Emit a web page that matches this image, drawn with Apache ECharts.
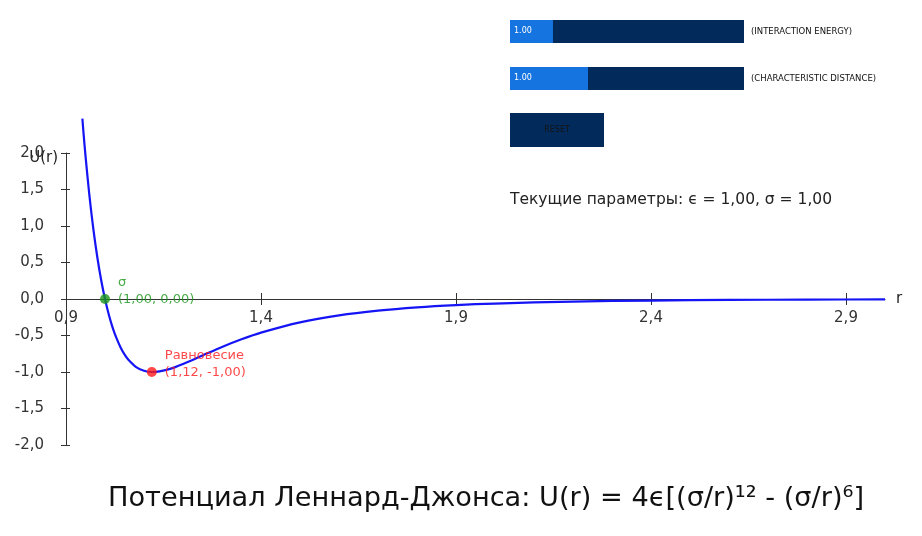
<!DOCTYPE html>
<html>
<head>
<meta charset="utf-8">
<script src="https://cdn.jsdelivr.net/npm/echarts@6/dist/echarts.min.js"></script>
<style>
html,body{margin:0;padding:0;background:#fff;}
#chart{width:922px;height:536px;}
</style>
</head>
<body>
<div id="chart"></div>
<script>
// ---- data ----
var rValues = [0.942, 0.945, 0.95, 0.96, 0.97, 0.98, 0.99, 1.00, 1.01, 1.02, 1.03, 1.04, 1.05, 1.06, 1.08, 1.10, 1.12, 1.14, 1.16, 1.18, 1.20, 1.25, 1.30, 1.35, 1.40, 1.50, 1.60, 1.70, 1.80, 1.90, 2.00, 2.20, 2.40, 2.60, 2.80, 3.00];
var uValues = [2.47, 2.27, 1.961, 1.418, 0.963, 0.582, 0.264, 0.000, -0.218, -0.398, -0.544, -0.663, -0.758, -0.832, -0.932, -0.983, -1.000, -0.992, -0.968, -0.933, -0.891, -0.774, -0.657, -0.552, -0.461, -0.320, -0.224, -0.159, -0.114, -0.083, -0.062, -0.035, -0.021, -0.013, -0.008, -0.006];
var xTickValues = [0.9, 1.4, 1.9, 2.4, 2.9];
var yTickValues = [-2.0, -1.5, -1.0, -0.5, 0.0, 0.5, 1.0, 1.5, 2.0];
var sigmaPoint = [1.00, 0.00];
var equilibriumPoint = [1.12, -1.00];
var sliderNames = ['(INTERACTION ENERGY)', '(CHARACTERISTIC DISTANCE)'];
var sliderValues = [1.00, 1.00];
var sliderMins = [0.1, 0.5];
var sliderMaxs = [5.0, 2.0];
var epsilonValue = 1.00;
var sigmaValue = 1.00;

function fmt(v, d) {
  return v.toFixed(d).replace('.', ',');
}

var curve = rValues.map(function (r, i) { return [r, uValues[i]]; });

var chart = echarts.init(document.getElementById('chart'), null, {renderer: 'canvas'});

var FONT = 'DejaVu Sans';
var AX = '#333';

// slider widgets
var graphics = [];
var barX = 510, barW = 234, barH = 23;
var barYs = [20, 67];
for (var i = 0; i < sliderValues.length; i++) {
  var frac = (sliderValues[i] - sliderMins[i]) / (sliderMaxs[i] - sliderMins[i]);
  graphics.push({type: 'rect', left: barX, top: barYs[i], shape: {width: barW, height: barH}, style: {fill: '#022b5c'}});
  graphics.push({type: 'rect', left: barX, top: barYs[i], shape: {width: barW * frac, height: barH}, style: {fill: '#1574df'}});
  graphics.push({type: 'text', left: barX + 4, top: barYs[i] + 7, style: {text: sliderValues[i].toFixed(2), fill: '#fff', font: '8px ' + FONT}});
  graphics.push({type: 'text', left: 751, top: barYs[i] + 7, style: {text: sliderNames[i], fill: '#111', font: '8.5px ' + FONT}});
}
graphics.push({type: 'rect', left: 510, top: 113, shape: {width: 94, height: 34}, style: {fill: '#022b5c'}});
graphics.push({type: 'text', x: 557, y: 130, style: {text: 'RESET', fill: '#141414', font: '8px ' + FONT, align: 'center', verticalAlign: 'middle'}});
graphics.push({type: 'text', left: 510, top: 192, style: {text: 'Текущие параметры: ϵ = ' + fmt(epsilonValue, 2) + ', σ = ' + fmt(sigmaValue, 2), fill: '#222', font: '15.5px ' + FONT}});

var option = {
  animation: false,
  backgroundColor: '#fff',
  title: {
    text: 'Потенциал Леннард-Джонса: U(r) = 4ϵ[(σ/r)¹² - (σ/r)⁶]',
    left: 103, top: 480,
    textStyle: {fontFamily: FONT, fontSize: 27.2, fontWeight: 'normal', color: '#111'}
  },
  graphic: graphics,
  grid: {left: 66, right: 37, top: 153, bottom: 91, containLabel: false},
  xAxis: [{
    type: 'value', min: 0.9, max: 3.0, position: 'bottom',
    name: 'r', nameLocation: 'end', nameGap: 11, nameMoveOverlap: false,
    nameTextStyle: {fontFamily: FONT, fontSize: 15, color: '#222'},
    axisLine: {onZero: true, lineStyle: {color: AX, width: 1}},
    axisTick: {show: true, inside: false, length: 6, customValues: xTickValues, lineStyle: {color: AX}},
    axisLabel: {customValues: xTickValues, margin: -134, fontFamily: FONT, fontSize: 15, color: '#333',
      formatter: function (v) { return fmt(v, 1); }},
    splitLine: {show: false}
  }, {
    type: 'value', min: 0.9, max: 3.0, position: 'bottom',
    axisLine: {show: false, onZero: true},
    axisTick: {show: true, inside: true, length: 6, customValues: xTickValues, lineStyle: {color: AX}},
    axisLabel: {show: false},
    splitLine: {show: false}
  }],
  yAxis: [{
    type: 'value', min: -2, max: 2, interval: 0.5,
    name: 'U(r)', nameLocation: 'end', nameGap: -5, nameMoveOverlap: false,
    nameTextStyle: {fontFamily: FONT, fontSize: 15, color: '#222', align: 'right', verticalAlign: 'middle', padding: [0, 8, 0, 0]},
    axisLine: {show: true, onZero: false, lineStyle: {color: AX, width: 1}},
    axisTick: {show: true, inside: false, length: 5, lineStyle: {color: AX}},
    axisLabel: {margin: 22, fontFamily: FONT, fontSize: 15, color: '#333',
      formatter: function (v) { return fmt(v, 1); }},
    splitLine: {show: false}
  }, {
    type: 'value', min: -2, max: 2, interval: 0.5, position: 'left',
    axisLine: {show: false, onZero: false},
    axisTick: {show: true, inside: true, length: 4, lineStyle: {color: AX}},
    axisLabel: {show: false},
    splitLine: {show: false}
  }],
  series: [{
    type: 'line',
    data: curve,
    showSymbol: false,
    smooth: 0.3,
    clip: false,
    lineStyle: {color: '#1414f5', width: 2.2},
    z: 2
  }, {
    type: 'scatter',
    data: [sigmaPoint],
    symbolSize: 10,
    itemStyle: {color: '#1a961a'},
    label: {show: true, position: 'right', distance: 8, offset: [0, -8],
      formatter: 'σ\n(' + fmt(sigmaPoint[0], 2) + ', ' + fmt(sigmaPoint[1], 2) + ')',
      color: '#1a961a', fontFamily: FONT, fontSize: 13, lineHeight: 17, align: 'left'},
    z: 5
  }, {
    type: 'scatter',
    data: [equilibriumPoint],
    symbolSize: 10,
    itemStyle: {color: '#ff1a1a'},
    label: {show: true, position: 'right', distance: 8, offset: [0, -8],
      formatter: 'Равновесие\n(' + fmt(equilibriumPoint[0], 2) + ', ' + fmt(equilibriumPoint[1], 2) + ')',
      color: '#ff1a1a', fontFamily: FONT, fontSize: 13, lineHeight: 17, align: 'left'},
    z: 5
  }]
};
chart.setOption(option);
</script>
</body>
</html>
